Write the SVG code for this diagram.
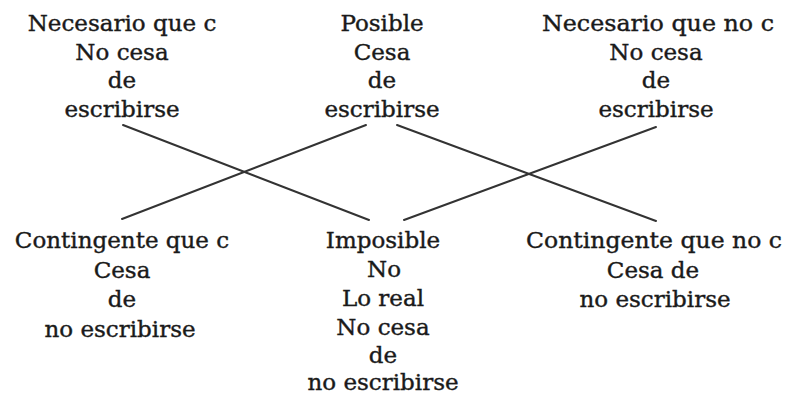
<svg xmlns="http://www.w3.org/2000/svg" width="785" height="396" viewBox="0 0 785 396">
<style>
text{font-family:"DejaVu Serif","Liberation Serif",serif;font-size:23px;fill:#1a1a1a;stroke:#1a1a1a;stroke-width:0.4;text-anchor:middle}
.ln{stroke:#333;stroke-width:2;fill:none;stroke-linecap:round}
</style>
<rect width="785" height="396" fill="#fff"/>
<g id="connectors">
<line class="ln" x1="123" y1="125" x2="369" y2="220"/>
<line class="ln" x1="122" y1="219" x2="366" y2="125"/>
<line class="ln" x1="397" y1="125" x2="656" y2="221"/>
<line class="ln" x1="404" y1="220" x2="656" y2="127"/>
</g>
<g id="necesario-c">
<text x="122" y="31">Necesario que c</text>
<text x="122" y="60">No cesa</text>
<text x="122" y="88">de</text>
<text x="122" y="117">escribirse</text>
</g>
<g id="posible">
<text x="382" y="31">Posible</text>
<text x="382" y="60">Cesa</text>
<text x="382" y="88">de</text>
<text x="382" y="117">escribirse</text>
</g>
<g id="necesario-no-c">
<text x="658" y="31" textLength="232" lengthAdjust="spacingAndGlyphs">Necesario que no c</text>
<text x="656" y="60">No cesa</text>
<text x="656" y="88">de</text>
<text x="656" y="117">escribirse</text>
</g>
<g id="contingente-c">
<text x="122" y="248">Contingente que c</text>
<text x="122" y="278">Cesa</text>
<text x="122" y="307">de</text>
<text x="120" y="337">no escribirse</text>
</g>
<g id="imposible">
<text x="383" y="248">Imposible</text>
<text x="384" y="277">No</text>
<text x="383" y="306">Lo real</text>
<text x="383" y="335">No cesa</text>
<text x="383" y="363">de</text>
<text x="383" y="390">no escribirse</text>
</g>
<g id="contingente-no-c">
<text x="654" y="248" textLength="256" lengthAdjust="spacingAndGlyphs">Contingente que no c</text>
<text x="653" y="278">Cesa de</text>
<text x="655" y="307">no escribirse</text>
</g>
</svg>
